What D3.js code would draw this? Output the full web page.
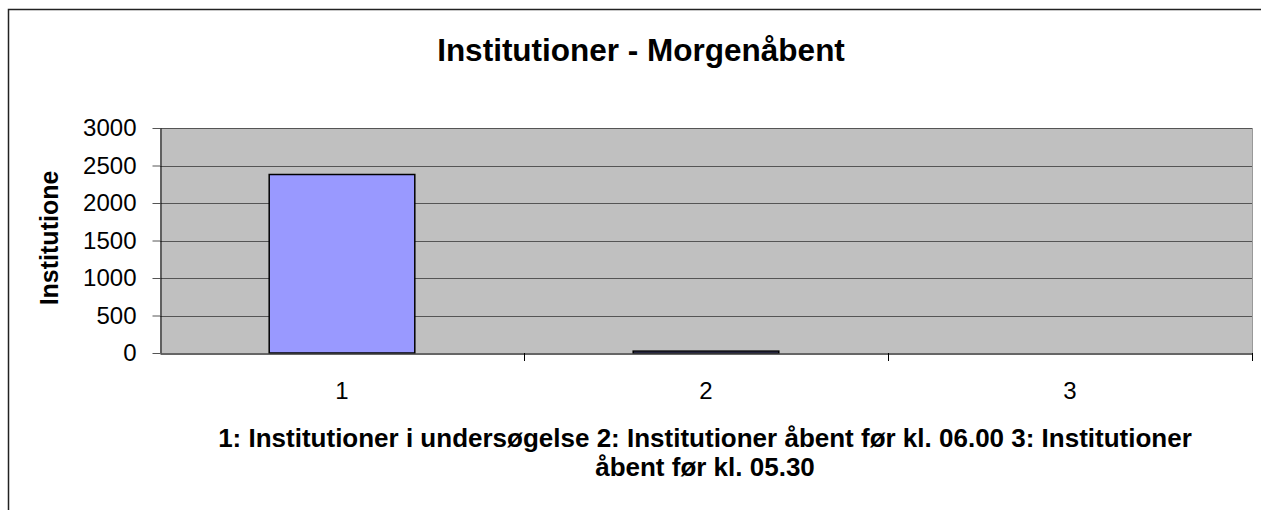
<!DOCTYPE html>
<html><head><meta charset="utf-8">
<script src="https://cdn.jsdelivr.net/npm/d3@7"></script>
<style>body{margin:0;background:#fff}svg{display:block;font-family:"Liberation Sans",Arial,sans-serif}</style>
</head><body>
<svg id="c" width="1261" height="510"></svg>
<script>
const categories = ["1", "2", "3"];
const values = [2380, 25, 0];
const yTicks = [0, 500, 1000, 1500, 2000, 2500, 3000];
const titleText = "Institutioner - Morgenåbent";
const yTitle = "Institutione";
const xTitleLines = ["1: Institutioner i undersøgelse 2: Institutioner åbent før kl. 06.00 3: Institutioner", "åbent før kl. 05.30"];

const FF = '"Liberation Sans",Arial,sans-serif';
const svg = d3.select("#c");
const L = 160, R = 1252, T = 128, B = 353;

// outer frame
svg.append("path").attr("d", "M8.5,510 L8.5,9.5 L1261,9.5").attr("fill", "none").attr("stroke", "#222").attr("stroke-width", 1.5);

const x = d3.scaleBand().domain(categories).range([L, R]).paddingInner(0.6).paddingOuter(0.3);
const xc = d3.scaleBand().domain(categories).range([L, R]);
const y = d3.scaleLinear().domain([0, 3000]).range([B, T]);

svg.append("rect").attr("x", L).attr("y", T).attr("width", R - L).attr("height", B - T).attr("fill", "#c0c0c0");

// gridlines
svg.append("g").selectAll("line").data(yTicks.filter(d => d > 0)).join("line")
  .attr("x1", L).attr("x2", R).attr("y1", d => Math.round(y(d)) + 0.5).attr("y2", d => Math.round(y(d)) + 0.5)
  .attr("stroke", "#555").attr("stroke-width", 1);
svg.append("line").attr("x1", R + 0.5).attr("x2", R + 0.5).attr("y1", T).attr("y2", B).attr("stroke", "#999");

// bars
svg.append("g").selectAll("rect").data(values).join("rect")
  .attr("x", (d, i) => x(categories[i]))
  .attr("y", d => y(d))
  .attr("width", x.bandwidth())
  .attr("height", d => B - y(d))
  .attr("fill", "#9999ff").attr("stroke", "#000").attr("stroke-width", 1.5);

// y axis
const yAxis = d3.axisLeft(y).tickValues(yTicks).tickFormat(d3.format("d")).tickSize(8).tickPadding(16).tickSizeOuter(0);
const gy = svg.append("g").attr("transform", `translate(${L + 0.5},0)`).call(yAxis);
gy.select(".domain").attr("stroke", "#000");
gy.selectAll(".tick line").attr("stroke", "#555");
gy.selectAll("text").attr("font-size", 24).attr("fill", "#000").attr("font-family", FF);

// x axis
const xAxis = d3.axisBottom(xc).tickSize(0).tickPadding(0);
const gx = svg.append("g").attr("transform", `translate(0,${B + 0.5})`).call(xAxis);
gx.select(".domain").attr("stroke", "#333").attr("stroke-width", 1.5);
gx.selectAll("text").attr("font-size", 24).attr("fill", "#000").attr("font-family", FF)
  .attr("dy", null).attr("y", 45);
// category separator ticks
svg.append("g").selectAll("line").data(categories).join("line")
  .attr("x1", d => Math.round(xc(d) + xc.bandwidth()) + 0.5).attr("x2", d => Math.round(xc(d) + xc.bandwidth()) + 0.5)
  .attr("y1", B).attr("y2", B + 8).attr("stroke", "#000");

// title
svg.append("text").attr("x", 641).attr("y", 61).attr("text-anchor", "middle")
  .attr("font-size", 31.5).attr("font-weight", "bold").text(titleText);

// y title
svg.append("text").attr("transform", "translate(58,238) rotate(-90)").attr("text-anchor", "middle")
  .attr("font-size", 25).attr("font-weight", "bold").text(yTitle);

// x title
svg.append("g").selectAll("text").data(xTitleLines).join("text")
  .attr("x", 705).attr("y", (d, i) => 447 + i * 29).attr("text-anchor", "middle")
  .attr("font-size", 26).attr("font-weight", "bold").text(d => d);
</script>
</body></html>
